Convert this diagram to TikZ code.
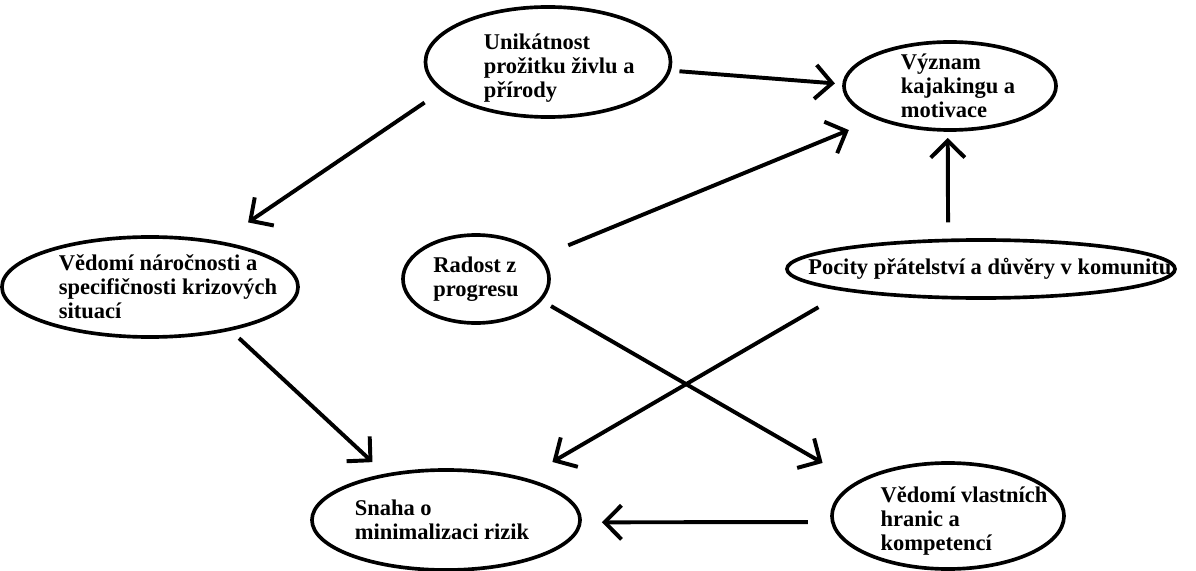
\documentclass[tikz,border=0pt]{standalone}
\usepackage{fontspec}
\setmainfont{Liberation Serif}
\usetikzlibrary{shapes.geometric,arrows.meta}

\tikzset{
  bub/.style={draw,ellipse,line width=2.6pt,inner sep=0pt,outer sep=0pt},
  txt/.style={font=\fontsize{16}{17.2}\selectfont\bfseries,align=left},
  link/.style={line width=2.8pt,-{Straight Barb[length=0.42cm,width=0.85cm]}}
}

\begin{document}
\begin{tikzpicture}[x=0.025cm,y=-0.025cm]
\useasboundingbox (0,0) rectangle (1196,571);
\node[bub,minimum width=6.125cm,minimum height=2.75cm,label={[txt,xshift=0.28cm,yshift=-0.15cm]center:{Unikátnost\\prožitku živlu a\\přírody}}] (uni) at (548,62) {};
\node[bub,minimum width=5.3cm,minimum height=2.2cm,label={[txt,xshift=0.2cm]center:{Význam\\kajakingu a\\motivace}}] (vyz) at (950,86) {};
\node[bub,minimum width=7.4cm,minimum height=2.5cm,label={[txt,xshift=0.45cm]center:{Vědomí náročnosti a\\specifičnosti krizových\\situací}}] (ved) at (150,287) {};
\node[bub,minimum width=3.65cm,minimum height=2.2cm,label={[txt]center:{Radost z\\progresu}}] (rad) at (476,279) {};
\node[bub,minimum width=9.7cm,minimum height=1.45cm,label={[txt,xshift=0.22cm]center:{Pocity přátelství a důvěry v komunitu}}] (poc) at (981,269) {};
\node[bub,minimum width=6.7cm,minimum height=2.5cm,label={[txt,xshift=-0.1cm]center:{Snaha o\\minimalizaci rizik}}] (sna) at (446,520) {};
\node[bub,minimum width=5.8cm,minimum height=2.65cm,label={[txt,xshift=0.4cm,yshift=-0.12cm]center:{Vědomí vlastních\\hranic a\\kompetencí}}] (vla) at (948,516) {};
\draw[link,shorten <=0.26cm,shorten >=0.23cm] (uni.-4) -- (vyz.179);
\draw[link,shorten <=0.55cm,shorten >=0.9cm] (uni.195) -- (ved.33);
\draw[link,shorten <=0.78cm,shorten >=0.78cm] (rad.19) -- (vyz.204);
\draw[link,shorten <=0.45cm,shorten >=0.2cm] (poc.139) -- (vyz.-93);
\draw[link,shorten <=0.31cm,shorten >=1cm] (rad.-18) -- (vla.160);
\draw[link,shorten <=0.33cm,shorten >=0.48cm] (ved.-28) -- (sna.143);
\draw[link,shorten <=0.85cm,shorten >=0.85cm] (poc.189) -- (sna.28);
\draw[link,shorten <=0.62cm,shorten >=0.55cm] (vla.183) -- (sna.-1);
\end{tikzpicture}
\end{document}
